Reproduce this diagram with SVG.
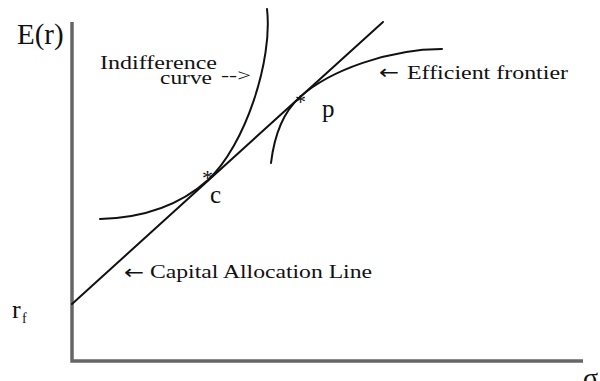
<svg xmlns="http://www.w3.org/2000/svg" width="600" height="381" viewBox="0 0 600 381">
<style>
.t{font-family:"Liberation Serif","DejaVu Serif",serif;fill:#111}
.a{font-family:"DejaVu Sans",sans-serif;fill:#111}
.c{fill:none;stroke:#111;stroke-width:2;stroke-linecap:round}
.ax{fill:none;stroke:#666;stroke-width:3.5}
</style>
<rect width="600" height="381" fill="#fff"/>
<g id="axes">
<polyline class="ax" points="72,22 72,361 583,361"/>
<text class="t" x="17" y="44" font-size="29">E(r)</text>
<text class="t" x="12" y="318" font-size="26">r</text>
<text class="t" x="22" y="323" font-size="14">f</text>
<text class="t" x="583" y="387" font-size="28">σ</text>
</g>
<g id="connectors">
<line id="cal" class="c" x1="72" y1="304" x2="383" y2="22"/>
</g>
<g id="indifference-curve">
<path class="c" d="M100,219 C140,218 178,207 208,180 C245,146 273,60 267,9"/>
<text class="t" x="100" y="69" font-size="18" textLength="117" lengthAdjust="spacingAndGlyphs">Indifference</text>
<text class="t" x="160" y="84" font-size="18" textLength="52" lengthAdjust="spacingAndGlyphs">curve</text>
<text class="t" x="221" y="81" font-size="17" textLength="30" lengthAdjust="spacingAndGlyphs">--&gt;</text>
</g>
<g id="efficient-frontier">
<path class="c" d="M271,163 C274,138 282,113 300,97 C330,70 390,49 442,49"/>
<text class="a" x="379" y="79" font-size="20" textLength="20" lengthAdjust="spacingAndGlyphs">←</text>
<text class="t" x="407" y="79" font-size="19" textLength="161" lengthAdjust="spacingAndGlyphs">Efficient frontier</text>
</g>
<g id="point-c">
<text class="t" x="202" y="185" font-size="22" fill="#111">*</text>
<text class="t" x="210" y="203" font-size="25">c</text>
</g>
<g id="point-p">
<text class="t" x="295" y="109" font-size="22" fill="#111">*</text>
<text class="t" x="322" y="117" font-size="25">p</text>
</g>
<g id="cal-label">
<text class="a" x="124" y="279" font-size="20" textLength="20" lengthAdjust="spacingAndGlyphs">←</text>
<text class="t" x="150" y="278" font-size="19" textLength="222" lengthAdjust="spacingAndGlyphs">Capital Allocation Line</text>
</g>
</svg>
